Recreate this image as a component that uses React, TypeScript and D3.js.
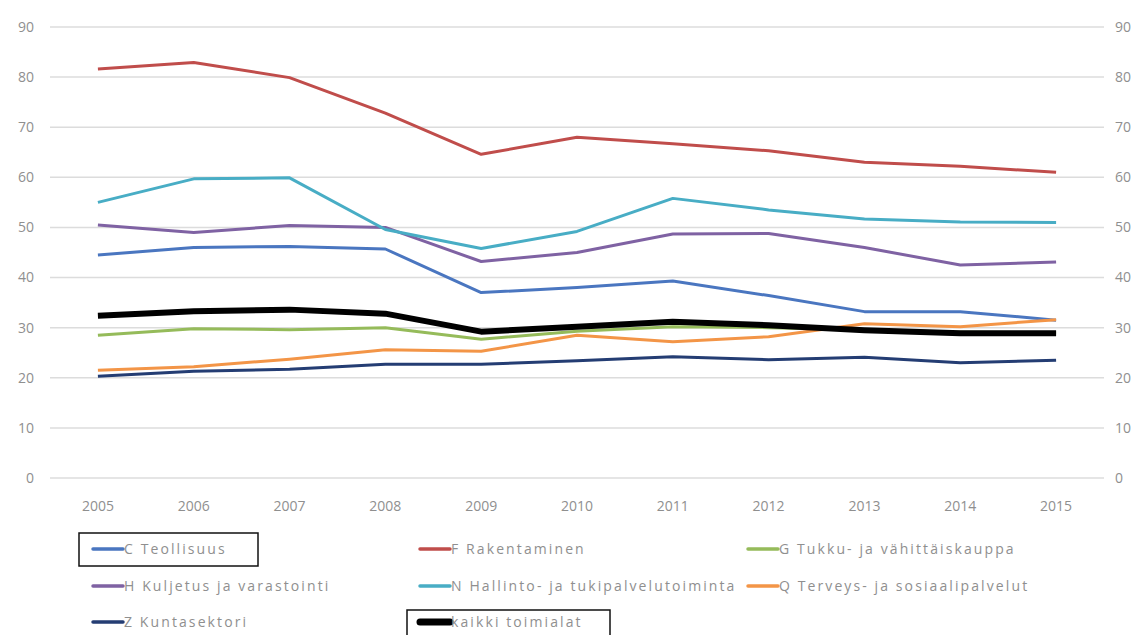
import React from "react";
import * as d3 from "d3";

const years = ["2005","2006","2007","2008","2009","2010","2011","2012","2013","2014","2015"];
const yTicks = [0,10,20,30,40,50,60,70,80,90];

const cTeollisuus = [44.5,46.0,46.2,45.7,37.0,38.0,39.3,36.4,33.2,33.2,31.5];
const fRakentaminen = [81.6,82.9,79.9,72.8,64.6,68.0,66.7,65.3,63.0,62.2,61.0];
const gKauppa = [28.5,29.8,29.6,30.0,27.7,29.3,30.2,30.0,29.6,29.1,29.0];
const hKuljetus = [50.5,49.0,50.4,50.0,43.2,45.0,48.7,48.8,46.0,42.5,43.1];
const nHallinto = [55.0,59.7,59.9,49.6,45.8,49.2,55.8,53.5,51.7,51.1,51.0];
const qTerveys = [21.5,22.2,23.7,25.6,25.3,28.5,27.2,28.2,30.8,30.2,31.6];
const zKunta = [20.3,21.3,21.7,22.7,22.7,23.4,24.2,23.6,24.1,23.0,23.5];
const kaikki = [32.4,33.3,33.6,32.8,29.2,30.2,31.2,30.5,29.5,28.9,28.9];

const seriesNames = [
  "C Teollisuus","F Rakentaminen","G Tukku- ja vähittäiskauppa",
  "H Kuljetus ja varastointi","N Hallinto- ja tukipalvelutoiminta","Q Terveys- ja sosiaalipalvelut",
  "Z Kuntasektori","kaikki toimialat"
];
const seriesValues = [cTeollisuus,fRakentaminen,gKauppa,hKuljetus,nHallinto,qTerveys,zKunta,kaikki];
const seriesColors = ["#4a76c0","#c04d4b","#95bb5a","#7f62a3","#48adc5","#f39547","#243d73","#000000"];
const seriesWidths = [3,3,3,3,3,3,3,6];

export default function App() {
  const W = 1147, H = 635;
  const x = d3.scalePoint<string>().domain(years).range([50, 1104]).padding(0.5);
  const y = d3.scaleLinear().domain([0, 90]).range([478, 27]);
  const line = d3.line<number>().x((_, i) => x(years[i]) as number).y(d => y(d));
  const font = "'Open Sans', sans-serif";
  const textColor = "#8f8f8f";

  const legendCols = [93, 420, 748];
  const legendRows = [549, 586, 622];

  return (
    <svg width={W} height={H} style={{ position: "absolute", left: 0, top: 0, background: "#fff" }}>
      <rect x={0} y={0} width={W} height={H} fill="#fff" />
      {yTicks.map(t => (
        <g key={t}>
          <line x1={50} x2={1104} y1={y(t)} y2={y(t)} stroke="#dcdcdc" strokeWidth={1.5} />
          <text x={34} y={y(t)} dy="0.35em" textAnchor="end" fontFamily={font} fontSize={14} fill={textColor}>{t}</text>
          <text x={1115} y={y(t)} dy="0.35em" textAnchor="start" fontFamily={font} fontSize={14} fill={textColor}>{t}</text>
        </g>
      ))}
      {years.map(yr => (
        <text key={yr} x={x(yr)} y={506} dy="0.35em" textAnchor="middle" fontFamily={font} fontSize={14} fill={textColor}>{yr}</text>
      ))}
      {seriesValues.map((vals, i) => (
        <path key={seriesNames[i]} d={line(vals) || ""} fill="none" stroke={seriesColors[i]}
          strokeWidth={seriesWidths[i]} strokeLinejoin="round" strokeLinecap="butt" />
      ))}
      {seriesNames.map((name, i) => {
        const cx = legendCols[i % 3];
        const cy = legendRows[Math.floor(i / 3)];
        return (
          <g key={name}>
            <line x1={cx} x2={cx + 30} y1={cy} y2={cy} stroke={seriesColors[i]} strokeWidth={i === 7 ? 7 : 3.5} strokeLinecap="round" />
            <text x={cx + 31} y={cy} dy="0.35em" fontFamily={font} fontSize={14} letterSpacing={2.1} fill={textColor}>{name}</text>
          </g>
        );
      })}
      <rect x={79} y={533} width={179} height={33} fill="none" stroke="#111" strokeWidth={1.5} />
      <rect x={407} y={610} width={203} height={30} fill="none" stroke="#111" strokeWidth={1.5} />
    </svg>
  );
}
